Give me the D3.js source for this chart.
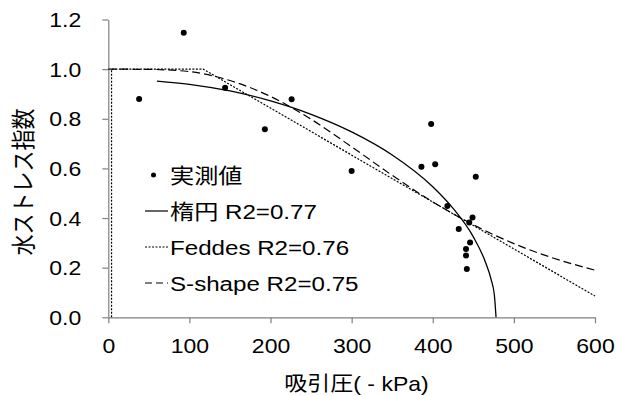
<!DOCTYPE html>
<html>
<head>
<meta charset="utf-8">
<script src="https://cdn.jsdelivr.net/npm/d3@7"></script>
<style>
  body { margin: 0; background: #fff; }
  svg { font-family: "Liberation Sans", Arial, "Noto Sans CJK JP", sans-serif; }
</style>
</head>
<body>
<div class="svg-container"></div>
<script>
// measured points (suction kPa, water stress index)
const measuredX = [38, 93, 144, 193, 226, 300, 386, 398, 403, 418, 432, 441, 441, 442, 445, 446, 449, 453];
const measuredY = [0.88, 1.147, 0.925, 0.758, 0.879, 0.59, 0.607, 0.779, 0.617, 0.448, 0.356, 0.275, 0.249, 0.195, 0.382, 0.301, 0.402, 0.566];

// fitted curves
const ellipseX = [60, 100, 150, 200, 250, 300, 350, 400, 425, 450, 465, 472, 476, 478];
const ellipseY = [0.952, 0.939, 0.912, 0.872, 0.818, 0.747, 0.654, 0.526, 0.439, 0.324, 0.222, 0.152, 0.088, 0];
const feddesX = [4, 4, 117, 600];
const feddesY = [0, 1, 1, 0.086];
const sShapeX = [0, 50, 100, 150, 200, 250, 300, 350, 400, 450, 500, 550, 600];
const sShapeY = [1, 0.999, 0.99, 0.954, 0.89, 0.798, 0.687, 0.572, 0.465, 0.373, 0.297, 0.237, 0.19];

const xTicks = [0, 100, 200, 300, 400, 500, 600];
const yTicks = [0, 0.2, 0.4, 0.6, 0.8, 1.0, 1.2];
const legendLabels = ["実測値", "楕円 R2=0.77", "Feddes R2=0.76", "S-shape R2=0.75"];
const xTitle = "吸引圧( - kPa)";
const yTitle = "水ストレス指数";

const width = 627;
const height = 396;
const stretch = 1.15; // text in the picture is a bit wide

const svg = d3.select(".svg-container").append("svg")
    .attr("width", width)
    .attr("height", height);

const xScale = d3.scaleLinear().domain([0, 600]).range([108.3, 595]);
const yScale = d3.scaleLinear().domain([0, 1.2]).range([317.3, 19.5]);

const axisColor = "#808080";

// y axis
const yAxis = svg.append("g")
    .attr("transform", "translate(" + xScale(0) + ",0)")
    .call(d3.axisLeft(yScale).tickValues(yTicks).tickFormat(d3.format(".1f")).tickSize(6).tickSizeOuter(0));
yAxis.select(".domain").attr("stroke", axisColor).attr("stroke-width", 1.2);
yAxis.selectAll(".tick line").attr("stroke", axisColor).attr("stroke-width", 1.2);
yAxis.selectAll(".tick text")
    .attr("x", null)
    .attr("dy", "0.36em")
    .attr("transform", "translate(-27,0) scale(" + stretch + ",1)")
    .attr("fill", "#000")
    .style("font-size", "20px")
    .style("font-family", null);

// x axis
const xAxis = svg.append("g")
    .attr("transform", "translate(0," + yScale(0) + ")")
    .call(d3.axisBottom(xScale).tickValues(xTicks).tickSize(6).tickSizeOuter(0));
xAxis.select(".domain").attr("stroke", axisColor).attr("stroke-width", 1.2);
xAxis.selectAll(".tick line").attr("stroke", axisColor).attr("stroke-width", 1.2);
xAxis.selectAll(".tick text")
    .attr("y", null)
    .attr("dy", "0.36em")
    .attr("transform", "translate(0,28) scale(" + stretch + ",1)")
    .attr("fill", "#000")
    .style("font-size", "20px")
    .style("font-family", null);

// axis titles
svg.append("text")
    .attr("transform", "translate(356.5,384) scale(" + stretch + ",1)")
    .attr("text-anchor", "middle")
    .attr("dy", "0.36em")
    .style("font-size", "20px")
    .text(xTitle);

svg.append("text")
    .attr("transform", "translate(23,182) scale(" + stretch + ",1) rotate(-90)")
    .attr("text-anchor", "middle")
    .attr("dy", "0.36em")
    .style("font-size", "21px")
    .text(yTitle);

// curves
const toPoints = (xs, ys) => xs.map((x, i) => [x, ys[i]]);
const smooth = d3.line().x(d => xScale(d[0])).y(d => yScale(d[1])).curve(d3.curveMonotoneX);
const straight = d3.line().x(d => xScale(d[0])).y(d => yScale(d[1]));

const plot = svg.append("g");

plot.append("path")
    .attr("d", straight(toPoints(feddesX, feddesY)))
    .attr("fill", "none")
    .attr("stroke", "#000")
    .attr("stroke-width", 1.2)
    .attr("stroke-dasharray", "2,1.5");

plot.append("path")
    .attr("d", smooth(toPoints(sShapeX, sShapeY)))
    .attr("fill", "none")
    .attr("stroke", "#000")
    .attr("stroke-width", 1.2)
    .attr("stroke-dasharray", "8,4");

plot.append("path")
    .attr("d", smooth(toPoints(ellipseX, ellipseY)))
    .attr("fill", "none")
    .attr("stroke", "#000")
    .attr("stroke-width", 1.3);

plot.selectAll(".dot")
    .data(toPoints(measuredX, measuredY))
    .enter()
    .append("circle")
    .classed("dot", true)
    .attr("cx", d => xScale(d[0]))
    .attr("cy", d => yScale(d[1]))
    .attr("r", 3)
    .attr("fill", "#000");

// legend
const legendStyles = [null, "none", "2,1.5", "7,4"];
const legend = svg.append("g").selectAll(".entry")
    .data(legendLabels)
    .enter()
    .append("g")
    .classed("entry", true)
    .attr("transform", (d, i) => "translate(0," + (175 + i * 36) + ")");

legend.each(function (d, i) {
    const g = d3.select(this);
    if (i === 0) {
        g.append("circle").attr("cx", 153.5).attr("cy", 0).attr("r", 2.5).attr("fill", "#000");
    } else {
        g.append("line")
            .attr("x1", 145).attr("x2", 168)
            .attr("y1", 0).attr("y2", 0)
            .attr("stroke", "#000")
            .attr("stroke-width", 1.2)
            .attr("stroke-dasharray", legendStyles[i] === "none" ? null : legendStyles[i]);
    }
    g.append("text")
        .attr("transform", "translate(170,0) scale(" + stretch + ",1)")
        .attr("dy", "0.36em")
        .style("font-size", "21px")
        .text(d);
});
</script>
</body>
</html>
